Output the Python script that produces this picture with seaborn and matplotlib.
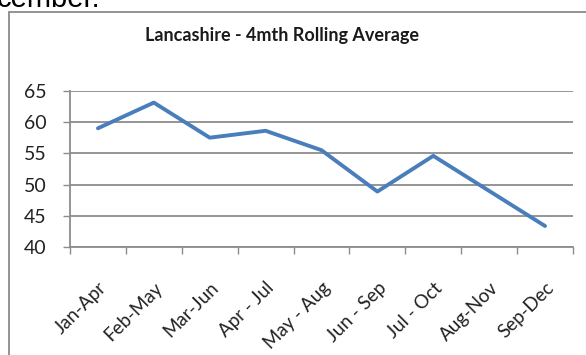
import matplotlib
matplotlib.use("Agg")
import matplotlib.pyplot as plt
import matplotlib.transforms as mtransforms
from matplotlib.patches import Rectangle
import pandas as pd
import seaborn as sns

periods = ["Jan-Apr", "Feb-May", "Mar-Jun", "Apr - Jul", "May - Aug",
           "Jun - Sep", "Jul - Oct", "Aug-Nov", "Sep-Dec"]
rolling_avg = [59.0, 63.1, 57.5, 58.6, 55.5, 48.9, 54.6, 49.0, 43.4]
y_ticks = [40, 45, 50, 55, 60, 65]

df = pd.DataFrame({"period": periods, "value": rolling_avg})

sns.set_theme(style="white")
plt.rcParams["font.family"] = ["Lato", "DejaVu Sans"]

W, H = 586, 355
fig = plt.figure(figsize=(W / 100, H / 100), dpi=100)
fig.patch.set_facecolor("white")

# chart frame
fig.patches.append(Rectangle((9 / W, -0.2), 1.2, 1.2 - 12 / H,
                             transform=fig.transFigure, fill=False,
                             edgecolor="#8a8a8a", linewidth=1.3))

# tail of the sentence from the surrounding document
fig.text(-3 / W, 1 - 7 / H, "cember.", fontsize=21, family="Liberation Sans",
         color="black", va="baseline", ha="left")

ax = fig.add_axes([70 / W, 1 - 247.3 / H, (573 - 70) / W, (247.3 - 90.7) / H])
sns.lineplot(data=df, x="period", y="value", ax=ax, color="#4a7ebb",
             linewidth=2.8, sort=False)

ax.set_ylim(40, 65)
ax.set_xlim(-0.5, len(periods) - 0.5)
ax.set_yticks(y_ticks)
ax.set_yticklabels([str(v) for v in y_ticks], fontsize=14, color="#222222")
ax.yaxis.grid(True, color="#8c8c8c", linewidth=1.3)
ax.set_axisbelow(True)

ax.set_xticks(range(len(periods)))
ax.set_xticklabels(periods, rotation=45, ha="right", va="top",
                   rotation_mode="anchor", fontsize=13.5, color="#222222")
# nudge the slanted labels right so their upper ends sit just past each category
shift = mtransforms.ScaledTranslation(10 / 100, 0, fig.dpi_scale_trans)
for lbl in ax.get_xticklabels():
    lbl.set_transform(lbl.get_transform() + shift)
ax.set_xticks([i - 0.5 for i in range(len(periods) + 1)], minor=True)
ax.tick_params(axis="x", which="major", length=0, pad=23)
ax.tick_params(axis="x", which="minor", length=5, width=1, color="#8c8c8c",
               direction="out", bottom=True)
ax.tick_params(axis="y", length=5, width=1, color="#8c8c8c", left=True, pad=12)

for side in ("top", "right"):
    ax.spines[side].set_visible(False)
for side in ("left", "bottom"):
    ax.spines[side].set_color("#8c8c8c")
    ax.spines[side].set_linewidth(1.3)

ax.set_xlabel("")
ax.set_ylabel("")

fig.text(282 / W, 1 - 36 / H, "Lancashire - 4mth Rolling Average",
         ha="center", va="center", fontsize=13, fontweight="bold",
         color="#1a1a1a")

fig.savefig("out.png", dpi=100)
